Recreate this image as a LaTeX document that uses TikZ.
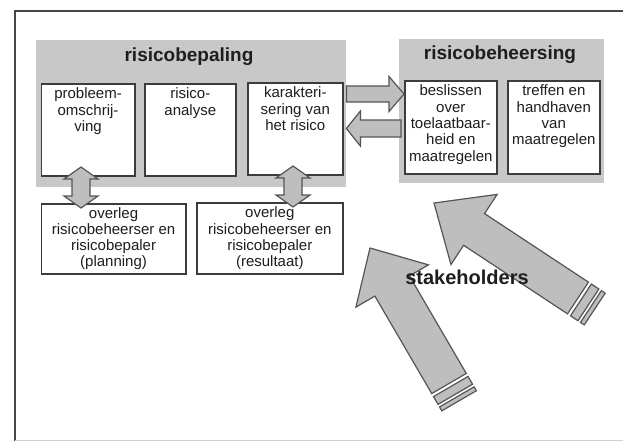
\documentclass[tikz,border=0pt]{standalone}
\usepackage{fontspec}
\setmainfont{Liberation Sans}
\usetikzlibrary{calc}
\definecolor{panelgray}{RGB}{200,200,200}
\definecolor{arrowgray}{RGB}{190,190,190}
\definecolor{arrowline}{RGB}{85,85,85}
\definecolor{boxline}{RGB}{60,60,60}
\definecolor{txt}{RGB}{30,30,30}
\definecolor{frameline}{RGB}{70,70,70}
\newcommand\mystrut{\rule{0pt}{11.5pt}}
% block arrow from #1 (tail) to #2 (tip); #3 shaft half width, #4 head half width, #5 head length
\newcommand\blockarrow[5]{%
  \draw[blk] let \p1=(#1), \p2=(#2), \n1={atan2(\y2-\y1,\x2-\x1)}, \n2={veclen(\x2-\x1,\y2-\y1)} in
  [shift={(\x1,\y1)}, rotate=\n1]
  (0pt,{-#3*1pt}) -- ({(\n2-#5)*1pt},{-#3*1pt}) -- ({(\n2-#5)*1pt},{-#4*1pt}) -- ({\n2*1pt},0pt)
  -- ({(\n2-#5)*1pt},{#4*1pt}) -- ({(\n2-#5)*1pt},{#3*1pt}) -- (0pt,{#3*1pt}) -- cycle;}
% double headed block arrow
\newcommand\dblarrow[5]{%
  \draw[blk] let \p1=(#1), \p2=(#2), \n1={atan2(\y2-\y1,\x2-\x1)}, \n2={veclen(\x2-\x1,\y2-\y1)} in
  [shift={(\x1,\y1)}, rotate=\n1]
  ({#5*1pt},{-#3*1pt}) -- ({(\n2-#5)*1pt},{-#3*1pt}) -- ({(\n2-#5)*1pt},{-#4*1pt}) -- ({\n2*1pt},0pt)
  -- ({(\n2-#5)*1pt},{#4*1pt}) -- ({(\n2-#5)*1pt},{#3*1pt}) -- ({#5*1pt},{#3*1pt}) -- ({#5*1pt},{#4*1pt})
  -- (0pt,0pt) -- ({#5*1pt},{-#4*1pt}) -- cycle;}
% stripes behind the tail of a block arrow
\newcommand\arrowstripes[3]{%
  \draw[blk] let \p1=(#1), \p2=(#2), \n1={atan2(\y2-\y1,\x2-\x1)} in
  [shift={(\x1,\y1)}, rotate=\n1]
  (-3.5pt,{-#3*1pt}) rectangle (-12.5pt,{#3*1pt})
  (-15.5pt,{-#3*1pt}) rectangle (-20pt,{#3*1pt});}
\begin{document}
\begin{tikzpicture}[x=1pt,y=-1pt,
  panel/.style={fill=panelgray, draw=none, anchor=north west, inner sep=0pt},
  box/.style={draw=boxline, line width=1.6pt, fill=white, anchor=north west, inner sep=0pt,
    font=\fontsize{15}{16.2}\selectfont, align=center, text=txt},
  toptext/.style={font=\fontsize{15}{16.4}\selectfont, align=center, text=txt, inner sep=0pt, anchor=north, yshift=-4pt},
  title/.style={font=\fontsize{19}{22}\selectfont\bfseries, text=txt},
  blk/.style={fill=arrowgray, draw=arrowline, line width=1.2pt, line join=miter}
]
\useasboundingbox (0,0) rectangle (623,441);
% frame
\draw[line width=1.5pt, frameline] (15,441) -- (15,11) -- (623,11);
\draw[line width=1pt, black!18] (15,440) -- (623,440);

% panels
\node[panel, minimum width=310pt, minimum height=147pt] (bep) at (36,40) {};
\node[panel, minimum width=205pt, minimum height=144pt] (beh) at (399,39) {};
\node[title] (tbep) at (189,57) {risicobepaling};
\node[title] (tbeh) at (500,55) {risicobeheersing};

% boxes
\node[box, minimum width=93.5pt, minimum height=92pt,
  label={[toptext]north:{\mystrut probleem-\\omschrij-\\ving}}] (b1) at (40.5,83) {};
\node[box, minimum width=91pt, minimum height=92pt,
  label={[toptext]north:{\mystrut risico-\\analyse}}] (b2) at (144,83) {};
\node[box, minimum width=95pt, minimum height=92pt,
  label={[toptext]north:{\mystrut karakteri-\\sering van\\het risico}}] (b3) at (247,82) {};
\node[box, minimum width=92pt, minimum height=93pt,
  label={[toptext]north:{\mystrut beslissen\\over\\toelaatbaar-\\heid en\\maatregelen}}] (b4) at (404,80) {};
\node[box, minimum width=92pt, minimum height=93pt,
  label={[toptext]north:{\mystrut treffen en\\handhaven\\van\\maatregelen}}] (b5) at (507,80) {};

% horizontal arrows
\coordinate (r1) at (bep.east |- 0,94);
\coordinate (r2) at (b4.west |- 0,94);
\coordinate (l1) at (401,128.5);
\coordinate (l2) at (bep.east |- 0,128.5);
\blockarrow{r1}{r2}{8}{17.5}{15}
\blockarrow{l1}{l2}{8.5}{17.5}{14}

% bottom boxes
\node[box, minimum width=144.5pt, minimum height=70pt] (o1) at (40.5,203)
  {overleg\\risicobeheerser en\\risicobepaler\\(planning)};
\node[box, minimum width=146pt, minimum height=71pt] (o2) at (196,202)
  {overleg\\risicobeheerser en\\risicobepaler\\(resultaat)};

% double arrows
\coordinate (d1a) at (81,167);
\coordinate (d1b) at (81,208);
\coordinate (d2a) at (293,166);
\coordinate (d2b) at (293,207);
\dblarrow{d1a}{d1b}{9}{17}{12}
\dblarrow{d2a}{d2b}{9}{17}{12}

% stakeholder arrows
\coordinate (sAt) at (449,383.5);
\coordinate (sAh) at (370,248);
\coordinate (sBt) at (578,298);
\coordinate (sBh) at (434,203);
\blockarrow{sAt}{sAh}{20}{42}{44}
\arrowstripes{sAt}{sAh}{20}
\blockarrow{sBt}{sBh}{19}{42}{48}
\arrowstripes{sBt}{sBh}{19}
\node[font=\fontsize{20}{24}\selectfont\bfseries, text=txt] (sh) at (467,277) {stakeholders};
\end{tikzpicture}
\end{document}
